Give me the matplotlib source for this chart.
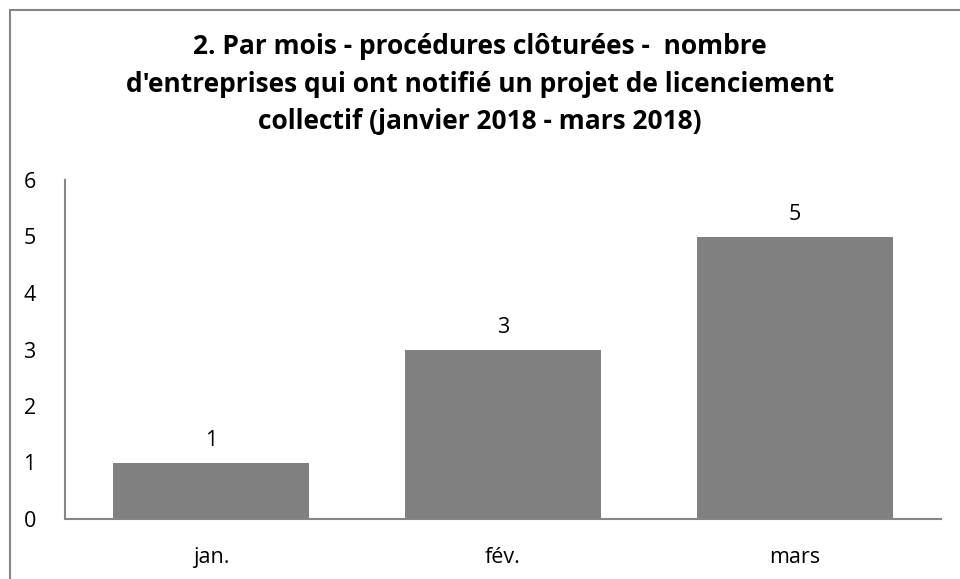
import matplotlib.pyplot as plt
from matplotlib.patches import Rectangle

months = ['jan.', 'fév.', 'mars']
counts = [1, 3, 5]
yticks = [0, 1, 2, 3, 4, 5, 6]

title = ("2. Par mois - procédures clôturées -  nombre\n"
         "d'entreprises qui ont notifié un projet de licenciement\n"
         "collectif (janvier 2018 - mars 2018)")

plt.rcParams['font.family'] = ['Open Sans', 'DejaVu Sans']

fig = plt.figure(figsize=(9.6, 5.79), dpi=100)
# chart frame
fig.patches.append(Rectangle((10 / 960, -0.05), 1.0, 1 - 10 / 579 + 0.05,
                             transform=fig.transFigure, fill=False,
                             edgecolor='#868686', linewidth=1.5))

ax = fig.add_axes([65 / 960, 1 - 519 / 579, (941 - 65) / 960, (519 - 180) / 579])
x = range(len(months))
bars = ax.bar(x, counts, width=0.67, color='#808080')
for b, v in zip(bars, counts):
    ax.text(b.get_x() + b.get_width() / 2, v + 0.2, str(v),
            ha='center', va='bottom', fontsize=15.5)

ax.set_xlim(-0.5, len(months) - 0.5)
ax.set_ylim(0, 6)
ax.set_yticks(yticks)
ax.set_xticks(list(x))
ax.set_xticklabels(months)
ax.tick_params(length=0, labelsize=15.5)
ax.tick_params(axis='x', pad=20)
ax.tick_params(axis='y', pad=25.5)
for lbl in ax.get_yticklabels():
    lbl.set_horizontalalignment('center')
for s in ['top', 'right']:
    ax.spines[s].set_visible(False)
for s in ['left', 'bottom']:
    ax.spines[s].set_color('#868686')
    ax.spines[s].set_linewidth(1.5)

fig.text(0.5, 1 - 84 / 579, title, ha='center', va='center',
         fontsize=19, fontweight='bold', linespacing=1.48)

fig.savefig('out.png', dpi=100)
